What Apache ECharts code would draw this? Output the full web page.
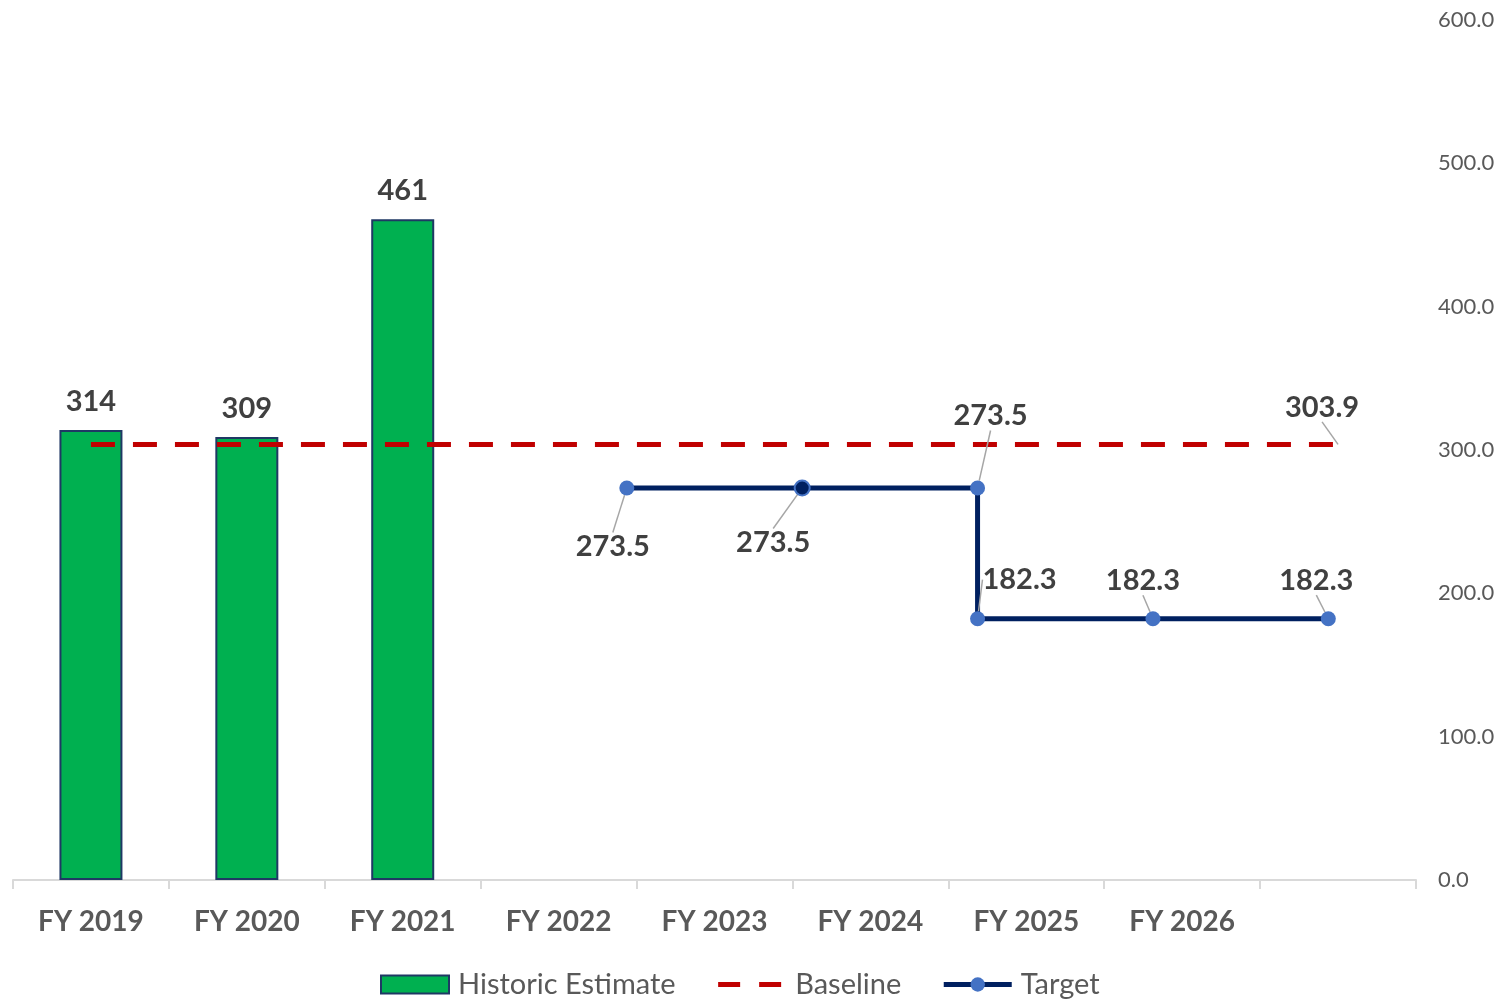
<!DOCTYPE html>
<html>
<head>
<meta charset="utf-8">
<script src="https://cdn.jsdelivr.net/npm/echarts@6/dist/echarts.min.js"></script>
<style>html,body{margin:0;padding:0;background:#fff}#c{width:1500px;height:1000px}</style>
</head>
<body>
<div id="c"></div>
<script>
// ---- data ----
const categories = ['FY 2019', 'FY 2020', 'FY 2021', 'FY 2022', 'FY 2023', 'FY 2024', 'FY 2025', 'FY 2026'];
const primarySlots = categories.concat(['']);
const historicValues = [314, 309, 461, null, null, null, null, null, null];
const baselineValues = [303.9, 303.9, 303.9, 303.9, 303.9, 303.9, 303.9, 303.9, 303.9];
const targetYears = ['FY 2022', 'FY 2023', 'FY 2024', 'FY 2024', 'FY 2025', 'FY 2026'];
const targetValues = [273.5, 273.5, 273.5, 182.3, 182.3, 182.3];
const yTicks = { min: 0, max: 600, interval: 100 };

// label offsets (style only)
const targetLabelShift = [[-14, 59], [-29, 55], [13, -72], [42, -39], [-10, -38], [-12, -38]];
const baselineLabelShift = [-16, -37];

const FONT = 'Lato, "Open Sans", sans-serif';
const chart = echarts.init(document.getElementById('c'));

const targetData = targetYears.map((y, i) => {
  const item = { value: [y, targetValues[i]] };
  if (i === 1) item.itemStyle = { color: '#002060', borderColor: '#4472C4', borderWidth: 2 };
  return item;
});

const lastB = baselineValues.length - 1;
const baselineData = baselineValues.map((v, i) => {
  if (i !== lastB) return { value: v };
  return {
    value: v,
    symbol: 'circle',
    symbolSize: 0.1,
    label: {
      show: true, position: 'inside',
      fontFamily: FONT, fontSize: 29, fontWeight: 'bold', color: '#404040',
      formatter: p => p.value.toFixed(1)
    },
    labelLine: { show: true, lineStyle: { color: '#A6A6A6', width: 1.5 } }
  };
});

chart.setOption({
  animation: false,
  textStyle: { fontFamily: FONT },
  grid: { left: 13, right: 84, top: 20, bottom: 120 },
  legend: {
    bottom: -4,
    left: 375,
    itemWidth: 68,
    itemHeight: 18,
    itemGap: 40,
    textStyle: { fontFamily: FONT, fontSize: 29, color: '#595959', padding: [0, 0, 0, 4] },
    data: [
      { name: 'Historic Estimate', icon: 'rect' },
      { name: 'Baseline', lineStyle: { width: 5, type: [22, 19], color: '#C00000' }, itemStyle: { opacity: 0 } },
      { name: 'Target', lineStyle: { width: 5, color: '#002060' } }
    ]
  },
  xAxis: [
    {
      type: 'category',
      data: primarySlots,
      boundaryGap: true,
      axisLine: { lineStyle: { color: '#D9D9D9', width: 2 } },
      axisTick: { show: true, length: 9, lineStyle: { color: '#D9D9D9', width: 2 } },
      axisLabel: { fontFamily: FONT, fontSize: 28, fontWeight: 'bold', color: '#595959', margin: 28 },
      splitLine: { show: false }
    },
    {
      type: 'category',
      data: categories,
      boundaryGap: true,
      show: false
    }
  ],
  yAxis: {
    type: 'value',
    position: 'right',
    min: yTicks.min, max: yTicks.max, interval: yTicks.interval,
    axisLine: { show: false },
    axisTick: { show: false },
    splitLine: { show: false },
    axisLabel: { fontFamily: FONT, fontSize: 22, color: '#595959', margin: 22, formatter: v => v.toFixed(1) }
  },
  series: [
    {
      name: 'Historic Estimate',
      type: 'bar',
      xAxisIndex: 0,
      data: historicValues,
      barWidth: 63,
      itemStyle: { color: '#00B050', borderColor: '#1F3864', borderWidth: 2 },
      label: { show: true, position: 'top', distance: 14, fontFamily: FONT, fontSize: 29, fontWeight: 'bold', color: '#404040' },
      z: 1
    },
    {
      name: 'Baseline',
      type: 'line',
      xAxisIndex: 0,
      data: baselineData,
      symbol: 'none',
      lineStyle: { color: '#C00000', width: 5, type: [24, 18], cap: 'butt' },
      itemStyle: { color: '#C00000' },
      labelLayout: p => (p.dataIndex === lastB ? { dx: baselineLabelShift[0], dy: baselineLabelShift[1] } : {}),
      z: 2
    },
    {
      name: 'Target',
      type: 'line',
      xAxisIndex: 1,
      data: targetData,
      symbol: 'circle',
      symbolSize: 15,
      showAllSymbol: true,
      lineStyle: { color: '#002060', width: 5 },
      itemStyle: { color: '#4472C4' },
      label: {
        show: true, position: 'inside',
        fontFamily: FONT, fontSize: 29, fontWeight: 'bold', color: '#404040',
        formatter: p => p.value[1].toFixed(1)
      },
      labelLine: { show: true, lineStyle: { color: '#A6A6A6', width: 1.5 } },
      labelLayout: p => ({ dx: targetLabelShift[p.dataIndex][0], dy: targetLabelShift[p.dataIndex][1] }),
      z: 3
    }
  ]
});
</script>
</body>
</html>
